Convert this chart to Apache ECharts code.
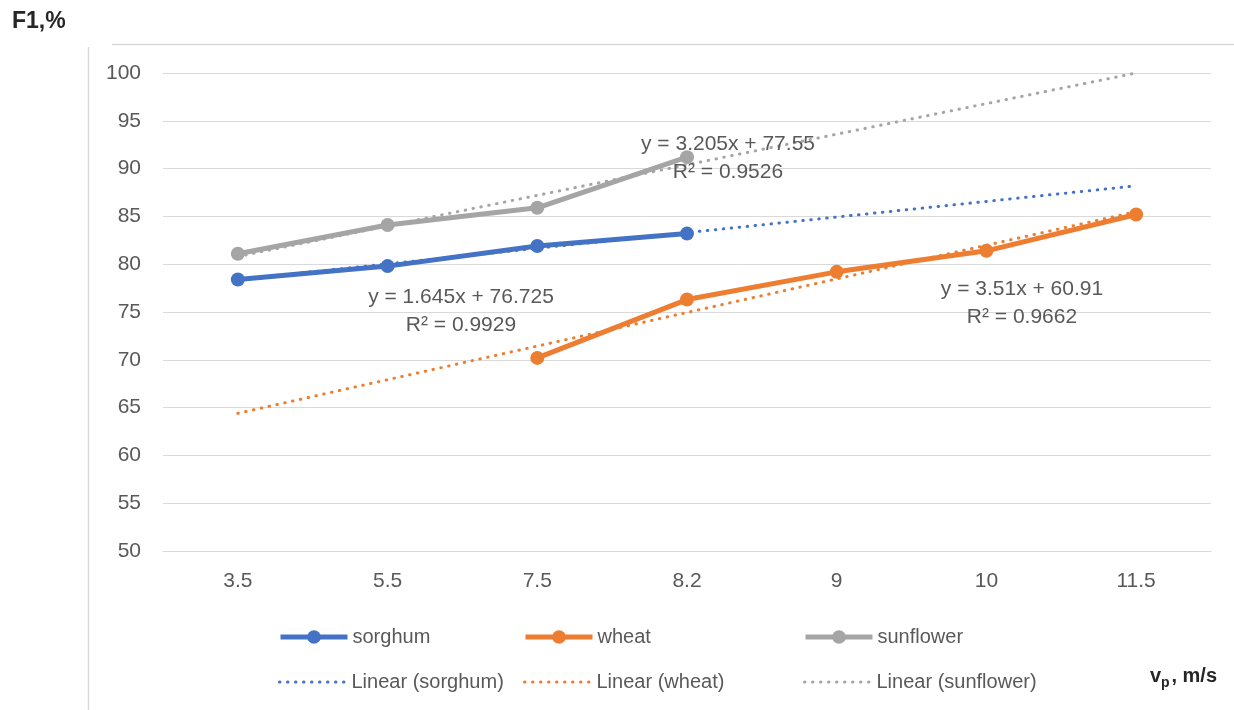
<!DOCTYPE html>
<html>
<head>
<meta charset="utf-8">
<script src="https://cdn.jsdelivr.net/npm/echarts@6/dist/echarts.min.js"></script>
<style>
  html, body { margin: 0; padding: 0; background: #fff; }
  #chart { width: 1234px; height: 710px; }
</style>
</head>
<body>
<div id="chart"></div>
<script>
// categories on the x axis (v_p, m/s)
const categories = ["3.5", "5.5", "7.5", "8.2", "9", "10", "11.5"];
// F1, % per crop
const sorghum = [78.4, 79.8, 81.9, 83.2, null, null, null];
const wheat = [null, null, 70.2, 76.3, 79.2, 81.4, 85.2];
const sunflower = [81.1, 84.1, 85.9, 91.2, null, null, null];
// linear trendlines, ends
const sorghumTrend = [78.4, null, null, null, null, null, 88.2];
const wheatTrend = [64.4, null, null, null, null, null, 85.5];
const sunflowerTrend = [80.8, null, null, null, null, null, 100.0];

const colors = { sorghum: "#4472C4", wheat: "#ED7D31", sunflower: "#A5A5A5" };
const fontFamily = "'Liberation Sans', Arial, sans-serif";
const textColor = "#595959";

function mainSeries(name, data, color) {
  return {
    name: name,
    type: "line",
    data: data,
    symbol: "circle",
    symbolSize: 14,
    itemStyle: { color: color },
    lineStyle: { color: color, width: 5 },
    z: 3,
    animation: false
  };
}

function trendSeries(name, data, color) {
  return {
    name: name,
    type: "line",
    data: data,
    connectNulls: true,
    symbol: "none",
    itemStyle: { color: color },
    lineStyle: { color: color, width: 3, type: [0.5, 7.5], cap: "round" },
    z: 4,
    animation: false
  };
}

function legendItem(name, left, top, isTrend) {
  return {
    data: [name],
    left: left,
    top: top,
    itemWidth: 67,
    itemHeight: 17,
    padding: 0,
    selectedMode: false,
    lineStyle: { width: "inherit" },
    itemStyle: isTrend ? { opacity: 0 } : {},
    textStyle: { color: textColor, fontSize: 20, fontFamily: fontFamily }
  };
}

function eqLabel(text, x, y) {
  return {
    type: "text",
    x: x,
    y: y,
    z: 10,
    style: {
      text: text,
      fill: textColor,
      font: "21px " + fontFamily,
      lineHeight: 28,
      align: "center",
      verticalAlign: "middle"
    }
  };
}

const chart = echarts.init(document.getElementById("chart"));
chart.setOption({
  backgroundColor: "#fff",
  color: [colors.sorghum, colors.wheat, colors.sunflower],
  grid: { left: 163, right: 23, top: 73, bottom: 159 },
  xAxis: {
    type: "category",
    data: categories,
    boundaryGap: true,
    axisTick: { show: false },
    axisLine: { lineStyle: { color: "#d9d9d9", width: 1 } },
    axisLabel: { color: textColor, fontSize: 21, fontFamily: fontFamily, margin: 20 },
    splitLine: { show: false }
  },
  yAxis: {
    type: "value",
    min: 50,
    max: 100,
    interval: 5,
    axisLine: { show: false },
    axisTick: { show: false },
    axisLabel: { color: textColor, fontSize: 21, fontFamily: fontFamily, margin: 22 },
    splitLine: { lineStyle: { color: "#d9d9d9", width: 1 } }
  },
  legend: [
    legendItem("sorghum", 278, 627, false),
    legendItem("wheat", 523, 627, false),
    legendItem("sunflower", 803, 627, false),
    legendItem("Linear (sorghum)", 278, 672, true),
    legendItem("Linear (wheat)", 523, 672, true),
    legendItem("Linear (sunflower)", 803, 672, true)
  ],
  graphic: [
    { type: "line", shape: { x1: 88.5, y1: 47, x2: 88.5, y2: 710 }, style: { stroke: "#d9d9d9", lineWidth: 1.5 } },
    { type: "line", shape: { x1: 112, y1: 44.5, x2: 1234, y2: 44.5 }, style: { stroke: "#d9d9d9", lineWidth: 1.5 } },
    {
      type: "text", x: 12, y: 22,
      style: { text: "F1,%", fill: "#262626", font: "bold 23px " + fontFamily, verticalAlign: "middle" }
    },
    {
      type: "text", x: 1150, y: 676,
      style: { text: "v", fill: "#262626", font: "bold 20px " + fontFamily, verticalAlign: "middle" }
    },
    {
      type: "text", x: 1161, y: 683,
      style: { text: "p", fill: "#262626", font: "bold 14px " + fontFamily, verticalAlign: "middle" }
    },
    {
      type: "text", x: 1217, y: 676,
      style: { text: ", m/s", fill: "#262626", font: "bold 20px " + fontFamily, align: "right", verticalAlign: "middle" }
    },
    eqLabel("y = 1.645x + 76.725\nR² = 0.9929", 461, 311),
    eqLabel("y = 3.51x + 60.91\nR² = 0.9662", 1022, 303),
    eqLabel("y = 3.205x + 77.55\nR² = 0.9526", 728, 158)
  ],
  series: [
    mainSeries("sorghum", sorghum, colors.sorghum),
    mainSeries("wheat", wheat, colors.wheat),
    mainSeries("sunflower", sunflower, colors.sunflower),
    trendSeries("Linear (sorghum)", sorghumTrend, colors.sorghum),
    trendSeries("Linear (wheat)", wheatTrend, colors.wheat),
    trendSeries("Linear (sunflower)", sunflowerTrend, colors.sunflower)
  ]
});
</script>
</body>
</html>
